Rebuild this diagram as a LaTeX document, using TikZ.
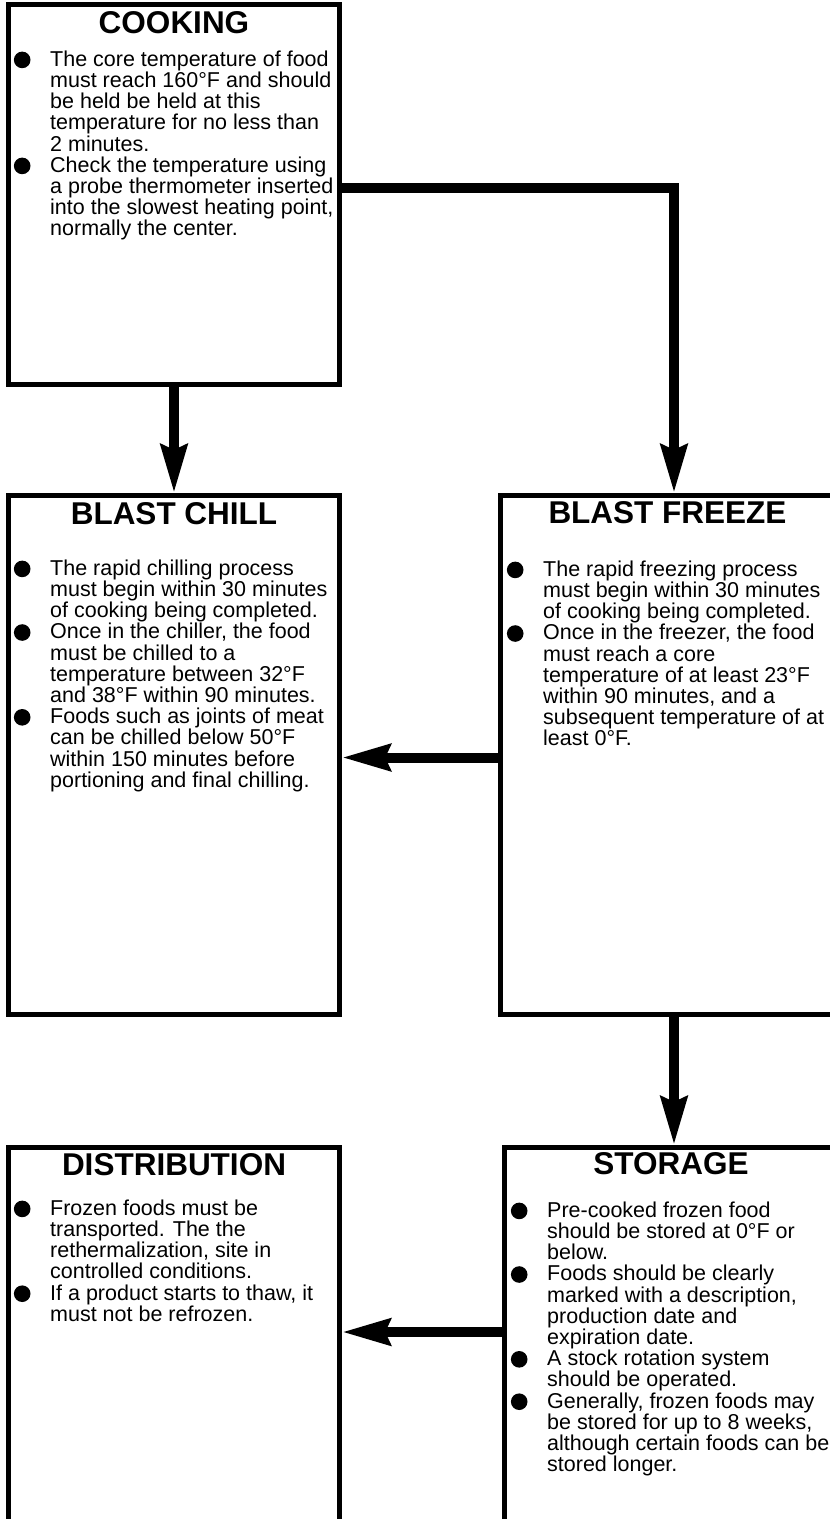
\documentclass[tikz,border=0pt]{standalone}
\usepackage{fontspec}
\setmainfont{Liberation Sans}
\usetikzlibrary{arrows.meta}
\newcommand{\blob}{\rule{0pt}{16pt}\llap{\tikz[baseline=-6.3pt]\fill (0,0) circle[radius=8.3pt];\hspace{19.7pt}}}
\begin{document}
\begin{tikzpicture}[x=1pt,y=-1pt]
\tikzset{stage/.style={draw, line width=5pt, rectangle, anchor=north west, minimum width=331pt, inner sep=0pt},
  heading/.style={anchor=base, inner sep=0pt, font=\fontsize{31.5}{33}\selectfont\bfseries},
  notes/.style={anchor=north west, align=left, inner sep=0pt, font=\fontsize{21.5}{21.2}\selectfont},
  flow/.style={line width=10pt, -{Stealth[length=48pt,width=26pt,inset=5pt]}}}
\useasboundingbox (0,0) rectangle (830,1519);
\node[stage, minimum height=380pt] (cook) at (6,2) {};
\node[stage, minimum height=519pt] (chill) at (6,493) {};
\node[stage, minimum height=519pt, minimum width=334pt] (freeze) at (498,493) {};
\node[stage, minimum height=420pt] (dist) at (6,1145) {};
\node[stage, minimum height=420pt, minimum width=334pt] (store) at (501.5,1145) {};
\node[heading] (cookhead) at ([yshift=-31pt]cook.north) {COOKING};
\node[heading] (chillhead) at ([yshift=-31pt]chill.north) {BLAST CHILL};
\node[heading] (freezehead) at ([yshift=-30pt]freeze.north) {BLAST FREEZE};
\node[heading] (disthead) at ([yshift=-30pt]dist.north) {DISTRIBUTION};
\node[heading] (storehead) at ([yshift=-29pt]store.north) {STORAGE};
\node[notes] (cooknotes) at ([xshift=44pt,yshift=-48pt]cook.north west) {\blob The core temperature of food\\
must reach 160°F and should\\
be held be held at this\\
temperature for no less than\\
2 minutes.\\
\blob Check the temperature using\\
a probe thermometer inserted\\
into the slowest heating point,\\
normally the center.};
\node[notes] (chillnotes) at ([xshift=44pt,yshift=-66pt]chill.north west) {\blob The rapid chilling process\\
must begin within 30 minutes\\
of cooking being completed.\\
\blob Once in the chiller, the food\\
must be chilled to a\\
temperature between 32°F\\
and 38°F within 90 minutes.\\
\blob Foods such as joints of meat\\
can be chilled below 50°F\\
within 150 minutes before\\
portioning and final chilling.};
\node[notes] (freezenotes) at ([xshift=45pt,yshift=-67pt]freeze.north west) {\blob The rapid freezing process\\
must begin within 30 minutes\\
of cooking being completed.\\
\blob Once in the freezer, the food\\
must reach a core\\
temperature of at least 23°F\\
within 90 minutes, and a\\
subsequent temperature of at\\
least 0°F.};
\node[notes] (distnotes) at ([xshift=44pt,yshift=-54pt]dist.north west) {\blob Frozen foods must be\\
transported. The the\\
rethermalization, site in\\
controlled conditions.\\
\blob If a product starts to thaw, it\\
must not be refrozen.};
\node[notes] (storenotes) at ([xshift=45.5pt,yshift=-56pt]store.north west) {\blob Pre-cooked frozen food\\
should be stored at 0°F or\\
below.\\
\blob Foods should be clearly\\
marked with a description,\\
production date and\\
expiration date.\\
\blob A stock rotation system\\
should be operated.\\
\blob Generally, frozen foods may\\
be stored for up to 8 weeks,\\
although certain foods can be\\
stored longer.};
\coordinate (bend) at (674,188);
\coordinate (across) at (420,757.5);
\coordinate (down) at (420,1332);
\draw[flow] (cook.south) -- (chill.north);
\draw[flow] (cook.east |- bend) -- (bend) -- (bend |- freeze.north);
\draw[flow] (freeze.west |- across) -- (chill.east |- across);
\draw[flow] (bend |- freeze.south) -- (bend |- store.north);
\draw[flow] (store.west |- down) -- (dist.east |- down);
\end{tikzpicture}
\end{document}
